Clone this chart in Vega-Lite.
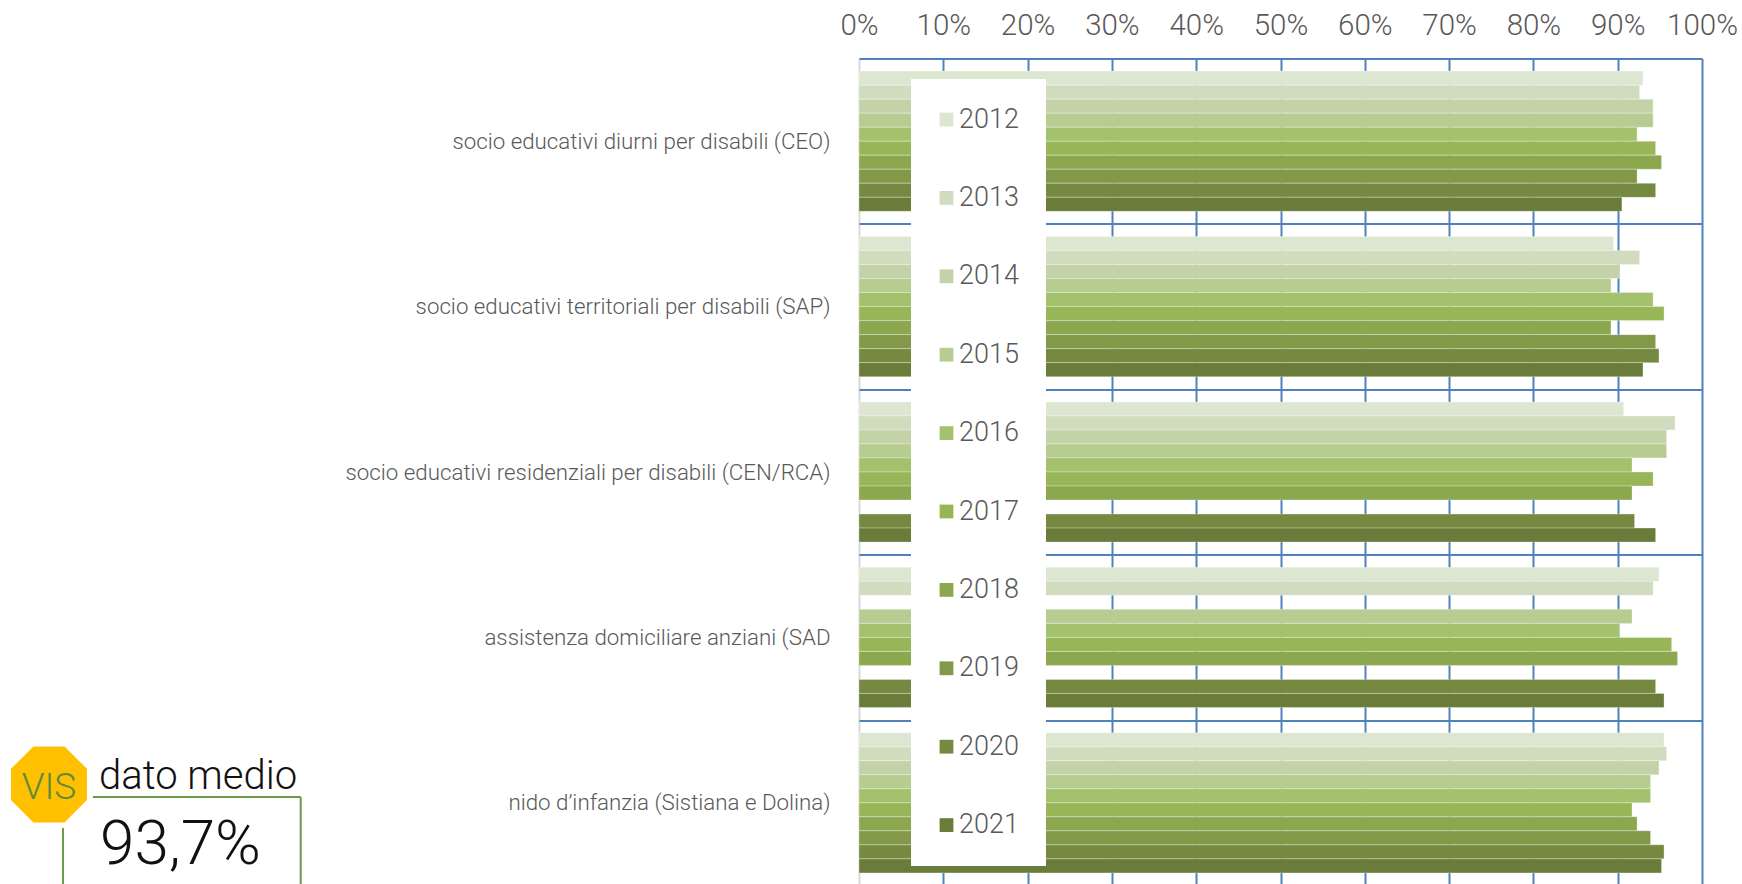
{
"$schema":"https://vega.github.io/schema/vega-lite/v6.json",
"width":843,"height":827,
"autosize":{"type":"none"},
"padding":{"left":859,"top":58.5,"right":40,"bottom":0},
"background":"white",
"config":{"view":{"stroke":null},"font":"Roboto"},
"datasets":{
"valori":[
{"servizio":"socio educativi diurni per disabili (CEO)","anno":"2012","valore":0.930},
{"servizio":"socio educativi diurni per disabili (CEO)","anno":"2013","valore":0.926},
{"servizio":"socio educativi diurni per disabili (CEO)","anno":"2014","valore":0.942},
{"servizio":"socio educativi diurni per disabili (CEO)","anno":"2015","valore":0.942},
{"servizio":"socio educativi diurni per disabili (CEO)","anno":"2016","valore":0.923},
{"servizio":"socio educativi diurni per disabili (CEO)","anno":"2017","valore":0.945},
{"servizio":"socio educativi diurni per disabili (CEO)","anno":"2018","valore":0.952},
{"servizio":"socio educativi diurni per disabili (CEO)","anno":"2019","valore":0.923},
{"servizio":"socio educativi diurni per disabili (CEO)","anno":"2020","valore":0.945},
{"servizio":"socio educativi diurni per disabili (CEO)","anno":"2021","valore":0.905},
{"servizio":"socio educativi territoriali per disabili (SAP)","anno":"2012","valore":0.895},
{"servizio":"socio educativi territoriali per disabili (SAP)","anno":"2013","valore":0.926},
{"servizio":"socio educativi territoriali per disabili (SAP)","anno":"2014","valore":0.902},
{"servizio":"socio educativi territoriali per disabili (SAP)","anno":"2015","valore":0.892},
{"servizio":"socio educativi territoriali per disabili (SAP)","anno":"2016","valore":0.942},
{"servizio":"socio educativi territoriali per disabili (SAP)","anno":"2017","valore":0.955},
{"servizio":"socio educativi territoriali per disabili (SAP)","anno":"2018","valore":0.892},
{"servizio":"socio educativi territoriali per disabili (SAP)","anno":"2019","valore":0.945},
{"servizio":"socio educativi territoriali per disabili (SAP)","anno":"2020","valore":0.949},
{"servizio":"socio educativi territoriali per disabili (SAP)","anno":"2021","valore":0.930},
{"servizio":"socio educativi residenziali per disabili (CEN/RCA)","anno":"2012","valore":0.907},
{"servizio":"socio educativi residenziali per disabili (CEN/RCA)","anno":"2013","valore":0.968},
{"servizio":"socio educativi residenziali per disabili (CEN/RCA)","anno":"2014","valore":0.958},
{"servizio":"socio educativi residenziali per disabili (CEN/RCA)","anno":"2015","valore":0.958},
{"servizio":"socio educativi residenziali per disabili (CEN/RCA)","anno":"2016","valore":0.917},
{"servizio":"socio educativi residenziali per disabili (CEN/RCA)","anno":"2017","valore":0.942},
{"servizio":"socio educativi residenziali per disabili (CEN/RCA)","anno":"2018","valore":0.917},
{"servizio":"socio educativi residenziali per disabili (CEN/RCA)","anno":"2020","valore":0.920},
{"servizio":"socio educativi residenziali per disabili (CEN/RCA)","anno":"2021","valore":0.945},
{"servizio":"assistenza domiciliare anziani (SAD","anno":"2012","valore":0.949},
{"servizio":"assistenza domiciliare anziani (SAD","anno":"2013","valore":0.942},
{"servizio":"assistenza domiciliare anziani (SAD","anno":"2015","valore":0.917},
{"servizio":"assistenza domiciliare anziani (SAD","anno":"2016","valore":0.902},
{"servizio":"assistenza domiciliare anziani (SAD","anno":"2017","valore":0.964},
{"servizio":"assistenza domiciliare anziani (SAD","anno":"2018","valore":0.971},
{"servizio":"assistenza domiciliare anziani (SAD","anno":"2020","valore":0.945},
{"servizio":"assistenza domiciliare anziani (SAD","anno":"2021","valore":0.955},
{"servizio":"nido d’infanzia (Sistiana e Dolina)","anno":"2012","valore":0.955},
{"servizio":"nido d’infanzia (Sistiana e Dolina)","anno":"2013","valore":0.958},
{"servizio":"nido d’infanzia (Sistiana e Dolina)","anno":"2014","valore":0.949},
{"servizio":"nido d’infanzia (Sistiana e Dolina)","anno":"2015","valore":0.939},
{"servizio":"nido d’infanzia (Sistiana e Dolina)","anno":"2016","valore":0.939},
{"servizio":"nido d’infanzia (Sistiana e Dolina)","anno":"2017","valore":0.917},
{"servizio":"nido d’infanzia (Sistiana e Dolina)","anno":"2018","valore":0.923},
{"servizio":"nido d’infanzia (Sistiana e Dolina)","anno":"2019","valore":0.939},
{"servizio":"nido d’infanzia (Sistiana e Dolina)","anno":"2020","valore":0.955},
{"servizio":"nido d’infanzia (Sistiana e Dolina)","anno":"2021","valore":0.952}
]},
"resolve":{"scale":{"y":"independent"}},
"layer":[
{"data":{"name":"valori"},
"mark":{"type":"bar","stroke":"#ffffff","strokeWidth":0.6,"strokeOpacity":0.5},
"encoding":{
"x":{"field":"valore","type":"quantitative","scale":{"domain":[0,1],"nice":false},
"axis":{"orient":"top","format":".0%","title":null,"values":[0,0.1,0.2,0.3,0.4,0.5,0.6,0.7,0.8,0.9,1],"domain":false,"ticks":false,"labelFontSize":29.5,"labelFontWeight":300,"labelColor":"#595959","labelPadding":18,"grid":true,"gridColor":{"condition":{"test":"datum.value===0","value":"#d9d9d9"},"value":"#4f81bd"},"gridWidth":2,"gridOpacity":1,"labelFlush":false}},
"y":{"field":"servizio","type":"nominal","title":null,"sort":["socio educativi diurni per disabili (CEO)","socio educativi territoriali per disabili (SAP)","socio educativi residenziali per disabili (CEN/RCA)","assistenza domiciliare anziani (SAD","nido d’infanzia (Sistiana e Dolina)"],"scale":{"paddingInner":0,"paddingOuter":0},
"axis":{"orient":"left","domain":false,"ticks":false,"tickBand":"extent","grid":true,"gridColor":"#4f81bd","gridWidth":2,"labelFontSize":22.3,"labelFontWeight":300,"labelColor":"#595959","labelPadding":29,"labelLimit":700}},
"yOffset":{"field":"anno","type":"ordinal","sort":"ascending","scale":{"paddingInner":0,"paddingOuter":0.9}},
"color":{"field":"anno","type":"ordinal","title":null,"scale":{"domain":["2012","2013","2014","2015","2016","2017","2018","2019","2020","2021"],"range":["#dce6d0","#d1dcbf","#c4d3a7","#b6cc90","#a4c16e","#98b658","#8ca84f","#82994a","#758a40","#697c39"]},
"legend":{"orient":"none","legendX":52,"legendY":20.5,"fillColor":"#ffffff","symbolType":"square","symbolSize":190,"symbolStrokeWidth":0,"symbolOffset":-5,"labelFontSize":27,"labelFontWeight":300,"labelColor":"#595959","rowPadding":50.4,"padding":27,"labelOffset":-1,"columns":1}}
}},
{"encoding":{"y":{"field":"py","type":"quantitative","title":null,"scale":{"domain":[0,1],"reverse":true,"nice":false},"axis":null},"x":{"field":"px","type":"quantitative"}},
"layer":[
{"data":{"values":[{"forma":"VIS","px":-0.9609,"py":0.8778}]},
"mark":{"type":"point","shape":"M-0.41,-1L0.41,-1L1,-0.41L1,0.41L0.41,1L-0.41,1L-1,0.41L-1,-0.41Z","filled":true,"fill":"#ffc000","opacity":1,"size":5776,"strokeWidth":0}},
{"data":{"values":[{"voce":"VIS","px":-0.9609,"py":0.8821}]},
"mark":{"type":"text","align":"center","baseline":"middle","fontSize":37,"fontWeight":300,"color":"#5b8c3e"},
"encoding":{"text":{"field":"voce"}}},
{"data":{"values":[{"voce":"dato medio","px":-0.9015,"py":0.8833}]},
"mark":{"type":"text","align":"left","baseline":"alphabetic","fontSize":40,"fontWeight":300,"color":"#111111"},
"encoding":{"text":{"field":"voce"}}},
{"data":{"values":[{"voce":"93,7%","px":-0.9003,"py":0.9740}]},
"mark":{"type":"text","align":"left","baseline":"alphabetic","fontSize":62,"fontWeight":300,"color":"#111111"},
"encoding":{"text":{"field":"voce"}}},
{"data":{"values":[{"px":-0.9087,"px2":-0.6623,"py":0.8930,"py2":0.8930},{"px":-0.6623,"px2":-0.6623,"py":0.8930,"py2":1.0},{"px":-0.9442,"px2":-0.9442,"py":0.9304,"py2":1.0}]},
"mark":{"type":"rule","color":"#6a9a4a","strokeWidth":2},
"encoding":{"x2":{"field":"px2"},"y2":{"field":"py2"}}}
]}
]
}
